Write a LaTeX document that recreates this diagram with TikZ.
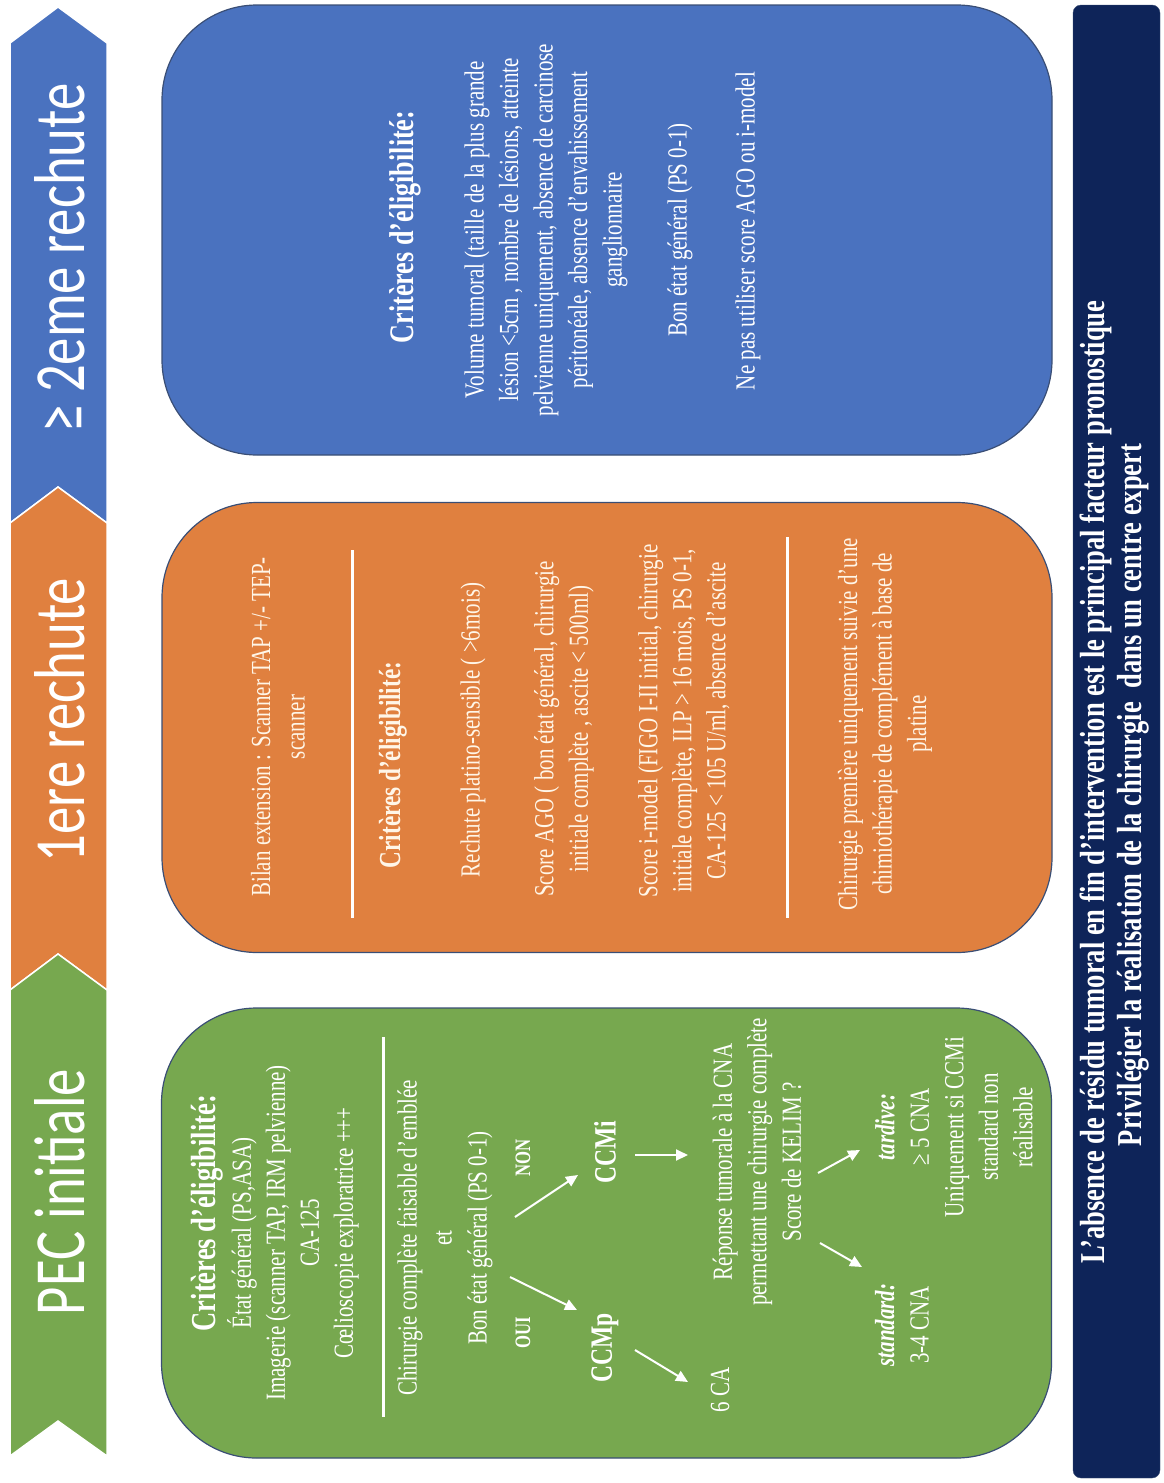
\documentclass[tikz,border=0pt]{standalone}
\usepackage{fontspec}
\setmainfont{Liberation Serif}[FakeStretch=0.76]
\newfontfamily\sansT{Carlito}[FakeStretch=0.76]
\usetikzlibrary{arrows.meta}
\definecolor{cblue}{HTML}{4A72BF}
\definecolor{corange}{HTML}{E0803F}
\definecolor{cgreen}{HTML}{77A84F}
\definecolor{cnavy}{HTML}{0E2459}
\definecolor{cedge}{HTML}{3A4E75}
\definecolor{ccream}{HTML}{FFF6E8}
\newcommand\bodyf{\fontsize{27.6}{34.5}\selectfont}
\tikzset{
  bigbox/.style={draw=cedge, line width=1.2pt, rounded corners=95pt, minimum width=890pt, minimum height=450pt, inner sep=0pt},
  txt/.style={rotate=90, text=white, align=center, font=\bodyf, inner sep=0pt},
  lab/.style={rotate=90, text=white, font=\sansT\fontsize{72}{80}\selectfont, inner sep=0pt},
  sepline/.style={draw=white, line width=3pt},
  arr/.style={draw=white, line width=2pt, -{Triangle[length=12pt,width=11pt]}},
  chev/.style={draw=white, line width=1.5pt}
}
\begin{document}
\begin{tikzpicture}[x=1pt,y=-1pt]
\useasboundingbox (0,0) rectangle (1163,1483);
% chevrons
\fill[cblue, chev] (10,43) -- (58,7) -- (107,43) -- (107,523) -- (58,487) -- (10,523) -- cycle;
\fill[corange, chev] (10,523) -- (58,487) -- (107,523) -- (107,990) -- (58,954) -- (10,990) -- cycle;
\fill[cgreen, chev] (10,990) -- (58,954) -- (107,990) -- (107,1456) -- (58,1421) -- (10,1456) -- cycle;
\node[lab] (lab1) at (60,258) {≥ 2eme rechute};
\node[lab] (lab2) at (60,720) {1ere rechute};
\node[lab] (lab3) at (60,1192) {PEC initiale};
% boxes
\node[bigbox, fill=cblue] (bbox) at (607,230) {};
\node[bigbox, fill=corange] (obox) at (607,727.5) {};
\node[bigbox, fill=cgreen] (gbox) at (606.5,1233) {};
% navy band
\node[fill=cnavy, draw=cedge, rounded corners=8pt, minimum width=87pt, minimum height=1473pt, inner sep=0pt] (nbox) at (1116.5,741.5) {};
\node[txt, font=\bfseries\fontsize{34.9}{37}\selectfont] (n1) at (1096,782) {L’absence de résidu tumoral en fin d’intervention est le principal facteur pronostique};
\node[txt, font=\bfseries\fontsize{34.9}{37}\selectfont] (n2) at (1133,795) {Privilégier la réalisation de la chirurgie\ \ dans un centre expert};
% blue box text
\node[txt, font=\bfseries\fontsize{34.4}{40}\selectfont] (bh) at (405,227) {Critères d’éligibilité:};
\node[txt] (bp) at (546,230) {Volume tumoral (taille de la plus grande\\lésion <5cm , nombre de lésions, atteinte\\pelvienne uniquement, absence de carcinose\\péritonéale, absence d’envahissement\\ganglionnaire};
\node[txt] (bb) at (680,230) {Bon état général (PS 0-1)};
\node[txt] (bn) at (748,231) {Ne pas utiliser score AGO ou i-model};
% orange box text
\node[txt, text=ccream] (o1) at (278,727) {Bilan extension : Scanner TAP +/- TEP-\\scanner};
\draw[sepline] (352,550) -- (352,918);
\node[txt, text=ccream, font=\bfseries\fontsize{30.5}{36}\selectfont] (oh) at (393,765) {Critères d’éligibilité:};
\node[txt, text=ccream] (orc) at (473,730) {Rechute platino-sensible ( >6mois)};
\node[txt, text=ccream] (oa) at (564,729) {Score AGO ( bon état général, chirurgie\\initiale complète , ascite < 500ml)};
\node[txt, text=ccream, font=\fontsize{27.6}{34}\selectfont] (oi) at (684,721) {Score i-model (FIGO I-II initial, chirurgie\\initiale complète, ILP > 16 mois, PS 0-1,\\CA-125 < 105 U/ml, absence d’ascite};
\draw[sepline] (787,537) -- (787,918);
\node[txt, text=ccream] (oc) at (885,724) {Chirurgie première uniquement suivie d’une\\chimiothérapie de complément à base de\\platine};
% green box text
\node[txt, font=\bfseries\fontsize{35}{40}\selectfont] (gh) at (207,1213) {Critères d’éligibilité:};
\node[txt, font=\fontsize{27.6}{34}\selectfont] (gc) at (293,1233) {État général (PS,ASA)\\Imagerie (scanner TAP, IRM pelvienne)\\CA-125\\Cœlioscopie exploratrice +++};
\draw[sepline] (383,1037) -- (383,1417);
\node[txt, font=\fontsize{27.6}{35}\selectfont] (g1) at (445,1238) {Chirurgie complète faisable d’emblée\\et\\Bon état général (PS 0-1)};
\node[txt, font=\bfseries\fontsize{22}{26}\selectfont] (oui) at (523,1333) {OUI};
\node[txt, font=\bfseries\fontsize{22}{26}\selectfont] (non) at (523,1158) {NON};
\node[txt, font=\bfseries\fontsize{31}{36}\selectfont] (ccmp) at (605,1348) {CCMp};
\node[txt, font=\bfseries\fontsize{31}{36}\selectfont] (ccmi) at (605,1152) {CCMi};
\node[txt] (sixca) at (720,1390) {6 CA};
\node[txt] (g2) at (757,1162) {Réponse tumorale à la CNA\\permettant une chirurgie complète\\Score de KELIM ?};
\node[txt] (tard) at (954,1127) {\textbf{\textit{tardive:}}\\≥ 5 CNA\\Uniquement si CCMi\\standard non\\réalisable};
\node[txt] (stand) at (902,1325) {\textbf{\textit{standard:}}\\3-4 CNA};
% arrows
\coordinate (a1s) at (510,1277); \coordinate (a1e) at (577,1310);
\coordinate (a2s) at (515,1217); \coordinate (a2e) at (578,1175);
\coordinate (a3s) at (635,1350); \coordinate (a3e) at (688,1382);
\coordinate (a4s) at (635,1155); \coordinate (a4e) at (688,1155);
\coordinate (a5s) at (818,1173); \coordinate (a5e) at (860,1150);
\coordinate (a6s) at (820,1243); \coordinate (a6e) at (862,1267);
\draw[arr] (a1s) -- (a1e);
\draw[arr] (a2s) -- (a2e);
\draw[arr] (a3s) -- (a3e);
\draw[arr] (a4s) -- (a4e);
\draw[arr] (a5s) -- (a5e);
\draw[arr] (a6s) -- (a6e);
\end{tikzpicture}
\end{document}
